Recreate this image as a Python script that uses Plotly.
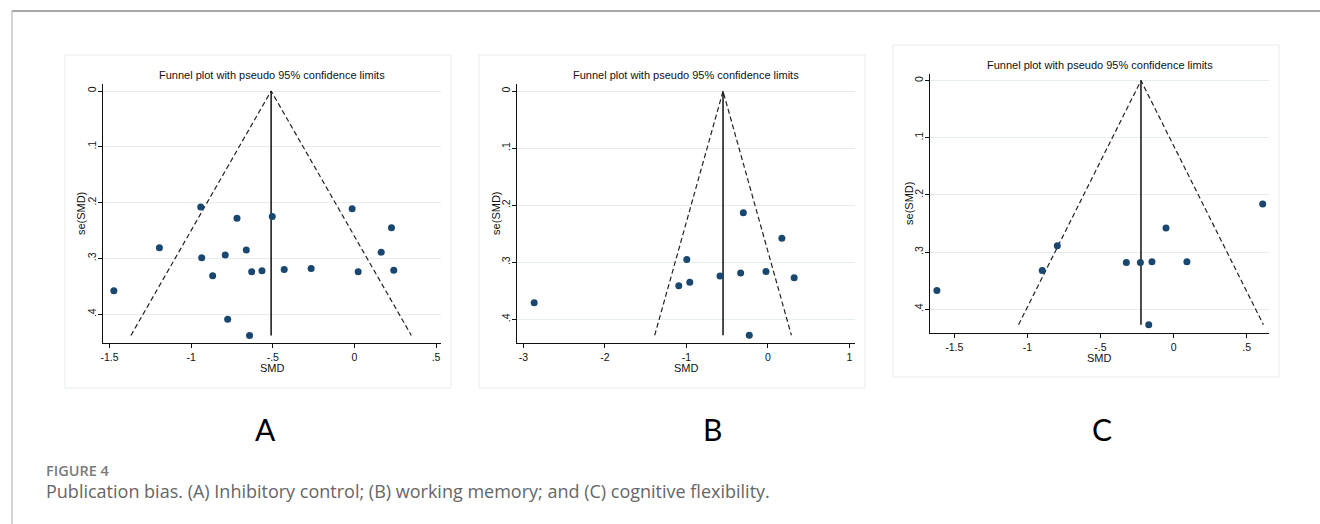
import plotly.graph_objects as go

# ---------------- data ----------------
# Panel A: inhibitory control
a_smd = [-1.473, -1.194, -0.941, -0.935, -0.868, -0.791, -0.776, -0.719, -0.662, -0.629,
         -0.642, -0.566, -0.503, -0.430, -0.265, -0.014, 0.023, 0.164, 0.227, 0.241]
a_se = [0.358, 0.281, 0.208, 0.299, 0.331, 0.294, 0.409, 0.228, 0.285, 0.324,
        0.438, 0.322, 0.225, 0.320, 0.318, 0.211, 0.324, 0.289, 0.245, 0.321]
a_theta = -0.51

# Panel B: working memory
b_smd = [-2.869, -1.094, -0.996, -0.959, -0.588, -0.335, -0.302, -0.229, -0.024, 0.171, 0.322]
b_se = [0.371, 0.341, 0.295, 0.335, 0.324, 0.319, 0.213, 0.428, 0.316, 0.258, 0.327]
b_theta = -0.551

# Panel C: cognitive flexibility
c_smd = [-1.618, -0.898, -0.795, -0.323, -0.227, -0.148, -0.170, -0.052, 0.091, 0.609]
c_se = [0.367, 0.332, 0.289, 0.318, 0.318, 0.317, 0.427, 0.258, 0.317, 0.216]
c_theta = -0.223

# tick labels
a_xticks = [-1.5, -1, -0.5, 0, 0.5]
a_xtext = ["-1.5", "-1", "-.5", "0", ".5"]
b_xticks = [-3, -2, -1, 0, 1]
b_xtext = ["-3", "-2", "-1", "0", "1"]
c_xticks = [-1.5, -1, -0.5, 0, 0.5]
c_xtext = ["-1.5", "-1", "-.5", "0", ".5"]
yticks = [0, 0.1, 0.2, 0.3, 0.4]
ytext = ["0", ".1", ".2", ".3", ".4"]

panel_letters = ["A", "B", "C"]
plot_title = "Funnel plot with pseudo 95% confidence limits"
x_title = "SMD"
y_title = "se(SMD)"
fig_label = "FIGURE 4"
caption = "Publication bias. (A) Inhibitory control; (B) working memory; and (C) cognitive flexibility."

# ---------------- layout helpers ----------------
W, H = 1320, 524


def px(x):
    return x / W


def py(y):
    return 1 - y / H


NAVY = "#1a476f"
GRID = "#e4edf0"
AXFONT = dict(family="Liberation Sans, Arial", size=10.5, color="#111")

panels = [
    dict(smd=a_smd, se=a_se, theta=a_theta, xt=a_xticks, xtt=a_xtext,
         xpx=(100.3, 439.3), ypx=(84.3, 342.7), xr=[-1.539, 0.532], yr=[0.451, -0.012],
         box=(62, 55, 449, 388), title_y=75, ytitle_x=77.8, xtitle_y=368.3, letter_x=262.7),
    dict(smd=b_smd, se=b_se, theta=b_theta, xt=b_xticks, xtt=b_xtext,
         xpx=(515.0, 854.3), ypx=(84.3, 342.7), xr=[-3.082, 1.073], yr=[0.441, -0.012],
         box=(477, 55, 864, 388), title_y=75, ytitle_x=493.5, xtitle_y=368.3, letter_x=711),
    dict(smd=c_smd, se=c_se, theta=c_theta, xt=c_xticks, xtt=c_xtext,
         xpx=(929.3, 1269.3), ypx=(74.3, 332.7), xr=[-1.664, 0.655], yr=[0.441, -0.011],
         box=(892, 45, 1279, 377), title_y=65, ytitle_x=908.5, xtitle_y=358.3, letter_x=1102),
]

fig = go.Figure()
shapes = []
annotations = []

for i, p in enumerate(panels):
    n = "" if i == 0 else str(i + 1)
    xa, ya = "x" + n, "y" + n
    maxse = max(p["se"])
    lo = p["theta"] - 1.96 * maxse
    hi = p["theta"] + 1.96 * maxse

    # pseudo 95% CI funnel (dashed)
    fig.add_trace(go.Scatter(x=[lo, p["theta"], hi], y=[maxse, 0, maxse], mode="lines",
                             line=dict(color="#222", width=1.2, dash="5px,3px"),
                             xaxis=xa, yaxis=ya, showlegend=False, hoverinfo="skip"))
    # pooled estimate (solid vertical)
    fig.add_trace(go.Scatter(x=[p["theta"], p["theta"]], y=[0, maxse], mode="lines",
                             line=dict(color="#111", width=1.5),
                             xaxis=xa, yaxis=ya, showlegend=False, hoverinfo="skip"))
    # studies
    fig.add_trace(go.Scatter(x=p["smd"], y=p["se"], mode="markers",
                             marker=dict(color=NAVY, size=7, line=dict(width=0)),
                             xaxis=xa, yaxis=ya, showlegend=False))

    x0, x1 = p["xpx"]
    y0, y1 = p["ypx"]
    fig.layout["xaxis" + n] = dict(
        domain=[px(x0), px(x1)], anchor=ya, range=p["xr"], tickvals=p["xt"], ticktext=p["xtt"],
        showline=True, linecolor="#111", linewidth=1, ticks="outside", ticklen=4,
        tickcolor="#111", tickwidth=1, showgrid=False, zeroline=False, tickfont=AXFONT,
        ticklabelstandoff=1,
    )
    fig.layout["yaxis" + n] = dict(
        domain=[py(y1), py(y0)], anchor=xa, range=p["yr"], tickvals=yticks, ticktext=ytext,
        showline=True, linecolor="#111", linewidth=1, ticks="outside", ticklen=4,
        tickcolor="#111", tickwidth=1, showgrid=True, gridcolor=GRID, gridwidth=1,
        zeroline=False, tickangle=-90, tickfont=AXFONT, ticklabelstandoff=-2,
    )

    # panel frame
    bx0, by0, bx1, by1 = p["box"]
    shapes.append(dict(type="rect", xref="paper", yref="paper",
                       x0=px(bx0), x1=px(bx1), y0=py(by1), y1=py(by0),
                       line=dict(color="#e6ecee", width=1), layer="below"))

    cx = (x0 + x1) / 2
    annotations.append(dict(text=plot_title, xref="paper", yref="paper", x=px(cx), y=py(p["title_y"]),
                            xanchor="center", yanchor="middle", showarrow=False,
                            font=dict(family="Liberation Sans, Arial", size=11, color="#111")))
    annotations.append(dict(text=x_title, xref="paper", yref="paper", x=px(cx), y=py(p["xtitle_y"]),
                            xanchor="center", yanchor="middle", showarrow=False,
                            font=dict(family="Liberation Sans, Arial", size=11, color="#111")))
    annotations.append(dict(text=y_title, xref="paper", yref="paper", x=px(p["ytitle_x"]),
                            y=py((y0 + y1) / 2), xanchor="center", yanchor="middle", showarrow=False,
                            textangle=-90,
                            font=dict(family="Liberation Sans, Arial", size=11, color="#111")))
    annotations.append(dict(text=panel_letters[i], xref="paper", yref="paper", x=px(p["letter_x"]),
                            y=py(429), xanchor="center", yanchor="middle", showarrow=False,
                            font=dict(family="Lato", size=30, color="#000")))

# outer figure frame (top and left rules)
shapes.append(dict(type="line", xref="paper", yref="paper", x0=px(9), x1=1, y0=py(11), y1=py(11),
                   line=dict(color="#a9a9a9", width=2)))
shapes.append(dict(type="line", xref="paper", yref="paper", x0=px(9), x1=px(9), y0=py(11), y1=0,
                   line=dict(color="#a9a9a9", width=1)))

annotations.append(dict(text=fig_label, xref="paper", yref="paper", x=px(41), y=py(470),
                        xanchor="left", yanchor="middle", showarrow=False,
                        font=dict(family="Open Sans", size=14.5, color="#7a7a7a", weight=600)))
annotations.append(dict(text=caption, xref="paper", yref="paper", x=px(41), y=py(491),
                        xanchor="left", yanchor="middle", showarrow=False,
                        font=dict(family="Open Sans", size=18, color="#666666")))

fig.update_layout(
    width=W, height=H, margin=dict(l=0, r=0, t=0, b=0),
    paper_bgcolor="white", plot_bgcolor="white",
    shapes=shapes, annotations=annotations, showlegend=False,
)

fig.write_html("out.html")
